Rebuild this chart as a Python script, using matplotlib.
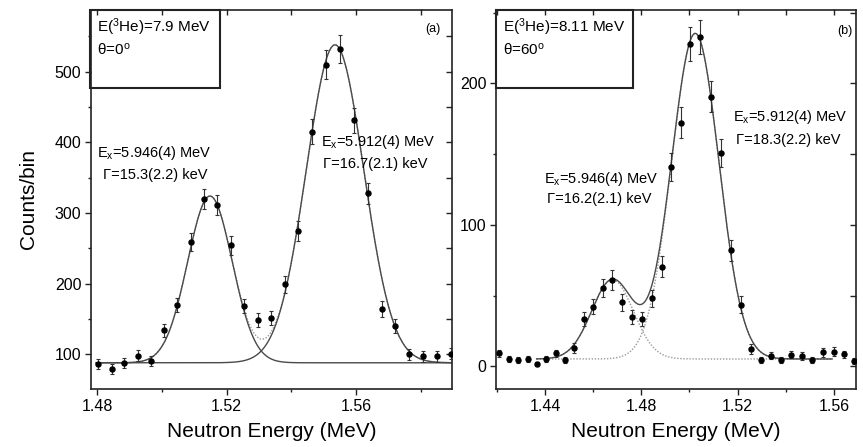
import numpy as np
import matplotlib
matplotlib.use("Agg")
import matplotlib.pyplot as plt
from matplotlib.ticker import MultipleLocator
from matplotlib.patches import Rectangle

plt.rcParams['font.family'] = ['Liberation Sans', 'DejaVu Sans']
plt.rcParams['mathtext.fontset'] = 'custom'
plt.rcParams['mathtext.rm'] = 'Liberation Sans'
plt.rcParams['mathtext.it'] = 'Liberation Sans'

# ---- panel (a): E(3He)=7.9 MeV, theta=0 deg ----
energy_a = [1.4803, 1.4845, 1.4883, 1.4925, 1.4965, 1.5006, 1.5045, 1.5088,
            1.5130, 1.5170, 1.5212, 1.5253, 1.5296, 1.5337, 1.5380, 1.5421,
            1.5463, 1.5506, 1.5550, 1.5594, 1.5636, 1.5679, 1.5720, 1.5764,
            1.5808, 1.5852, 1.5893]
counts_a = [86, 79, 88, 98, 91, 134, 170, 259, 320, 311, 254, 168, 148, 151,
            199, 274, 415, 510, 532, 431, 328, 164, 140, 100, 97, 97, 101]
err_a = [7, 7, 7, 8, 7, 9, 10, 13, 14, 14, 13, 10, 10, 10, 12, 14, 18, 20,
         20, 18, 15, 11, 10, 8, 8, 8, 8]
# Gaussian fit: baseline, (centre, amplitude, sigma) per peak
base_a = 88.0
peaks_a = [(1.5148, 236.0, 0.00690), (1.5535, 450.0, 0.00890)]
fit_range_a = (1.4796, 1.5900)

# ---- panel (b): E(3He)=8.11 MeV, theta=60 deg ----
energy_b = [1.4210, 1.4250, 1.4289, 1.4328, 1.4365, 1.4405, 1.4446, 1.4483,
            1.4522, 1.4562, 1.4601, 1.4640, 1.4680, 1.4721, 1.4760, 1.4802,
            1.4844, 1.4885, 1.4923, 1.4964, 1.5003, 1.5045, 1.5089, 1.5132,
            1.5173, 1.5214, 1.5257, 1.5298, 1.5340, 1.5381, 1.5423, 1.5467,
            1.5509, 1.5554, 1.5600, 1.5641, 1.5685]
counts_b = [9.3, 5.3, 4.6, 5.1, 1.8, 5.3, 9.3, 4.6, 13.3, 33.8, 42.3, 55.3,
            61.2, 45.4, 35.2, 33.4, 48.3, 70.6, 140.7, 172.1, 227.5, 233.0,
            190.5, 150.9, 82.0, 43.5, 12.2, 4.6, 7.6, 4.6, 8.4, 7.4, 4.6,
            10.0, 10.5, 8.6, 3.9]
err_b = [2.5, 2.0, 2.0, 2.0, 1.5, 2.0, 2.5, 2.0, 3.5, 5.0, 5.5, 6.5, 7.0,
         6.0, 5.0, 5.0, 6.0, 7.5, 10.0, 11.0, 12.0, 12.0, 11.0, 10.0, 7.5,
         6.0, 3.5, 2.0, 2.5, 2.0, 2.5, 2.5, 2.0, 3.0, 3.0, 2.5, 2.0]
base_b = 5.3
peaks_b = [(1.4680, 56.0, 0.00866), (1.5024, 230.0, 0.00983)]
fit_range_b = (1.4365, 1.5593)

xticks_a = [1.48, 1.52, 1.56]
xticks_b = [1.44, 1.48, 1.52, 1.56]


def gauss(x, c, a, s):
    return a * np.exp(-0.5 * ((x - c) / s) ** 2)


W, H = 863, 447
fig = plt.figure(figsize=(W / 100, H / 100), dpi=100)
top_px, bot_px = 9.5, 389.0
ax_a = fig.add_axes([91 / W, 1 - bot_px / H, (451.7 - 91) / W, (bot_px - top_px) / H])
ax_b = fig.add_axes([496 / W, 1 - bot_px / H, (855.5 - 496) / W, (bot_px - top_px) / H])

line_col = '#4a4a4a'
light_col = '#9a9a9a'


def style_axes(ax, xlim, ylim, xmin, ymaj, ymin, xticks):
    ax.set_xlim(*xlim)
    ax.set_ylim(*ylim)
    ax.xaxis.set_minor_locator(MultipleLocator(xmin))
    ax.yaxis.set_major_locator(MultipleLocator(ymaj))
    ax.yaxis.set_minor_locator(MultipleLocator(ymin))
    ax.set_xticks(xticks)
    ax.set_xticklabels([f"{t:.2f}" for t in xticks])
    ax.tick_params(which='both', direction='out', top=False, right=False,
                   labelsize=11.5, width=1.0, color='#222222', pad=3)
    ax.tick_params(which='major', length=4)
    ax.tick_params(which='minor', length=2.5)
    for sp in ax.spines.values():
        sp.set_linewidth(1.2)
        sp.set_color('#222222')
    # inward ticks on the top and right frame
    sx = ax.secondary_xaxis('top')
    sx.set_xticks(np.arange(np.ceil(xlim[0] / xmin) * xmin, xlim[1], xmin))
    sx.set_xticklabels([])
    sx.tick_params(direction='in', length=4, width=1.0, color='#222222')
    sy = ax.secondary_yaxis('right')
    sy.set_yticks(np.arange(np.ceil(ylim[0] / ymin) * ymin, ylim[1], ymin))
    sy.set_yticklabels([])
    sy.tick_params(direction='in', length=4, width=1.0, color='#222222')
    for s in (sx, sy):
        for sp in s.spines.values():
            sp.set_visible(False)


# ---- draw panel (a) ----
xa = np.linspace(*fit_range_a, 600)
comp_a = [base_a + gauss(xa, *p) for p in peaks_a]
total_a = base_a + sum(gauss(xa, *p) for p in peaks_a)
ax_a.plot(xa, total_a, color=light_col, lw=1.0, ls=(0, (1, 1.2)), zorder=2)
for cy in comp_a:
    ax_a.plot(xa, cy, color=line_col, lw=1.0, zorder=2)
ax_a.errorbar(energy_a, counts_a, yerr=err_a, fmt='o', ms=3.6, color='black',
              ecolor='#333333', elinewidth=0.8, capsize=1.5, capthick=0.8, zorder=3)
style_axes(ax_a, (1.478, 1.5896), (50.9, 588.0), 0.02, 100, 50, xticks_a)
ax_a.set_ylabel('Counts/bin', fontsize=15, labelpad=12)
ax_a.set_xlabel('Neutron Energy (MeV)', fontsize=15, labelpad=6)

# ---- draw panel (b) ----
xb = np.linspace(*fit_range_b, 600)
comp_b = [base_b + gauss(xb, *p) for p in peaks_b]
total_b = base_b + sum(gauss(xb, *p) for p in peaks_b)
for cy in comp_b:
    ax_b.plot(xb, cy, color=light_col, lw=1.0, ls=(0, (1, 1.2)), zorder=2)
ax_b.plot(xb, total_b, color=line_col, lw=1.0, zorder=2)
ax_b.errorbar(energy_b, counts_b, yerr=err_b, fmt='o', ms=3.6, color='black',
              ecolor='#333333', elinewidth=0.8, capsize=1.5, capthick=0.8, zorder=3)
style_axes(ax_b, (1.4196, 1.569), (-15.9, 252.2), 0.02, 100, 50, xticks_b)
ax_b.set_xlabel('Neutron Energy (MeV)', fontsize=15, labelpad=6)

# ---- text annotations ----
tfs = 10.5


def px_text(x, y, s, **kw):
    fig.text(x / W, 1 - y / H, s, fontsize=kw.pop('fontsize', tfs), va='center', **kw)


def info_box(x0, x1, y0, y1, lines):
    fig.patches.append(Rectangle((x0 / W, 1 - y1 / H), (x1 - x0) / W, (y1 - y0) / H,
                                 transform=fig.transFigure, fill=False,
                                 edgecolor='#222222', linewidth=1.5, zorder=5))
    for (tx, ty, s) in lines:
        px_text(tx, ty, s, fontsize=11)


info_box(90, 220, 9.5, 88.3, [(97, 27, r'E($^{\mathregular{3}}$He)=7.9 MeV'),
                               (97, 50, r'θ=0$^{\mathregular{o}}$')])
info_box(496, 633.3, 9.5, 88.3, [(503, 27, r'E($^{\mathregular{3}}$He)=8.11 MeV'),
                                  (503, 50, r'θ=60$^{\mathregular{o}}$')])

px_text(433, 29, '(a)', ha='center', fontsize=9)
px_text(845, 31, '(b)', ha='center', fontsize=9)

px_text(97, 153, r'E$_{\mathregular{x}}$=5.946(4) MeV')
px_text(103, 175, 'Γ=15.3(2.2) keV')
px_text(321, 142, r'E$_{\mathregular{x}}$=5.912(4) MeV')
px_text(323, 164, 'Γ=16.7(2.1) keV')

px_text(733, 117, r'E$_{\mathregular{x}}$=5.912(4) MeV')
px_text(736, 140, 'Γ=18.3(2.2) keV')
px_text(544, 179, r'E$_{\mathregular{x}}$=5.946(4) MeV')
px_text(547, 199, 'Γ=16.2(2.1) keV')

fig.savefig('out.png', dpi=100)
